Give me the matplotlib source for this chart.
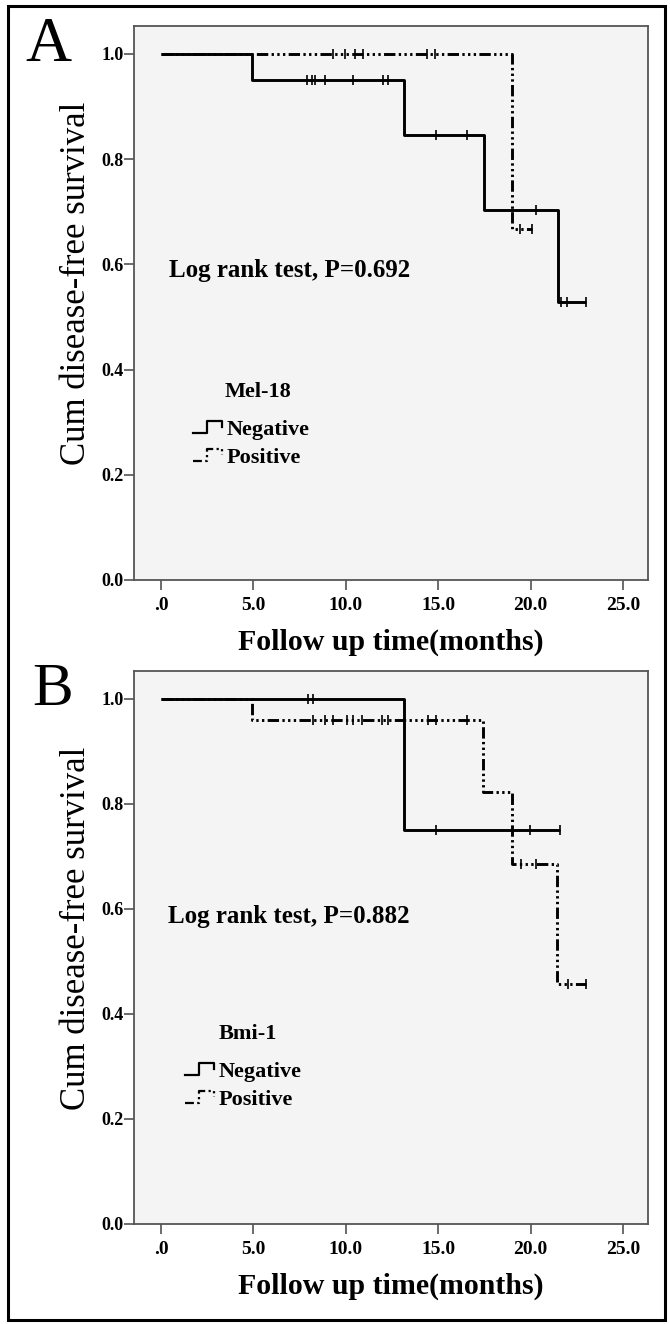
import numpy as np
import matplotlib
matplotlib.use('Agg')
import matplotlib.pyplot as plt
from matplotlib.lines import Line2D
from matplotlib.patches import Rectangle

plt.rcParams['font.family'] = ['Liberation Serif', 'DejaVu Serif']

# Panel A: Mel-18  (event times / survival levels, censor times)
a_neg_t = [0.0, 4.9, 13.15, 17.45, 21.5]
a_neg_s = [1.0, 0.95, 0.845, 0.703, 0.528]
a_neg_end = 23.0
a_neg_cens = [7.9, 8.15, 8.35, 8.9, 10.4, 12.0, 12.3, 14.9, 16.55, 20.3, 21.65, 21.95, 23.0]
a_pos_t = [0.0, 19.0]
a_pos_s = [1.0, 0.667]
a_pos_end = 20.05
a_pos_cens = [9.3, 9.95, 10.5, 10.95, 14.4, 14.85, 19.45, 20.05]

# Panel B: Bmi-1
b_neg_t = [0.0, 13.15]
b_neg_s = [1.0, 0.75]
b_neg_end = 21.6
b_neg_cens = [7.95, 8.25, 14.9, 19.95, 21.6]
b_pos_t = [0.0, 4.9, 17.4, 19.0, 21.45]
b_pos_s = [1.0, 0.96, 0.823, 0.686, 0.457]
b_pos_end = 23.0
b_pos_cens = [8.25, 8.85, 9.3, 10.05, 10.4, 10.85, 11.95, 12.3, 14.45, 14.9, 16.55,
              19.5, 20.3, 22.0, 23.0]

x_ticks = [0, 5, 10, 15, 20, 25]
x_labels = ['.0', '5.0', '10.0', '15.0', '20.0', '25.0']
y_ticks = [0.0, 0.2, 0.4, 0.6, 0.8, 1.0]
y_labels = ['0.0', '0.2', '0.4', '0.6', '0.8', '1.0']

W, H = 670, 1324
DASH = (0, (3.9, 1.15, 0.8, 1.15, 0.8, 1.15, 0.8, 1.15))


def px(x, y):
    return x / W, 1 - y / H


def km(ax, t, s, end, cens, ls):
    xs = list(t) + [end]
    ys = list(s) + [s[-1]]
    ax.step(xs, ys, where='post', color='black', lw=2.1, linestyle=ls,
            solid_capstyle='butt', zorder=3)
    idx = np.searchsorted(t, cens, side='right') - 1
    cy = np.array(s)[idx]
    ax.plot(cens, cy, linestyle='none', marker='|', ms=6.5, mew=1.2,
            color='black', zorder=4)


def legend_keys(fig, x0, y0, title, tx):
    fig.text(*px(tx, y0 - 38), title, ha='center', va='center',
             fontsize=16, fontweight='bold')
    # negative key (solid step)
    xs = [x0, x0 + 14, x0 + 14, x0 + 29, x0 + 29]
    ys = [y0 + 3, y0 + 3, y0 - 9, y0 - 9, y0 - 3]
    fig.add_artist(Line2D([px(a, b)[0] for a, b in zip(xs, ys)],
                          [px(a, b)[1] for a, b in zip(xs, ys)],
                          color='black', lw=1.6))
    fig.text(*px(x0 + 34, y0), 'Negative', ha='left', va='center',
             fontsize=16, fontweight='bold')
    # positive key (dash-dot-dot step)
    y1 = y0 + 28
    xs = [x0, x0 + 14, x0 + 14, x0 + 29, x0 + 29]
    ys = [y1 + 3, y1 + 3, y1 - 9, y1 - 9, y1 - 3]
    fig.add_artist(Line2D([px(a, b)[0] for a, b in zip(xs, ys)],
                          [px(a, b)[1] for a, b in zip(xs, ys)],
                          color='black', lw=1.6,
                          linestyle=(0, (4, 1.5, 1, 1.5, 1, 1.5))))
    fig.text(*px(x0 + 34, y1), 'Positive', ha='left', va='center',
             fontsize=16, fontweight='bold')


def style(ax):
    ax.set_facecolor('#f4f4f4')
    ax.set_xlim(-1.46, 26.35)
    ax.set_ylim(0, 1.053)
    ax.set_xticks(x_ticks)
    ax.set_xticklabels(x_labels, fontsize=14, fontweight='bold')
    ax.set_yticks(y_ticks)
    ax.set_yticklabels(y_labels, fontsize=13, fontweight='bold')
    ax.tick_params(axis='x', length=7, width=1.1, color='#444', pad=5)
    ax.tick_params(axis='y', length=7, width=1.1, color='#444', pad=0.5)
    for sp in ax.spines.values():
        sp.set_color('#555')
        sp.set_linewidth(1.3)
    ax.set_xlabel('Follow up time(months)', fontsize=21.5, fontweight='bold')
    ax.xaxis.set_label_coords(0.5, -0.088)
    ax.set_ylabel('Cum disease-free survival', fontsize=25)
    ax.yaxis.set_label_coords(-0.08, 0.535)


fig = plt.figure(figsize=(W / 100, H / 100), dpi=100)
axA = fig.add_axes([134 / W, 1 - 580 / H, 514 / W, 554 / H])
axB = fig.add_axes([134 / W, 1 - 1224 / H, 514 / W, 553 / H])

km(axA, a_neg_t, a_neg_s, a_neg_end, a_neg_cens, '-')
km(axA, a_pos_t, a_pos_s, a_pos_end, a_pos_cens, DASH)
km(axB, b_neg_t, b_neg_s, b_neg_end, b_neg_cens, '-')
km(axB, b_pos_t, b_pos_s, b_pos_end, b_pos_cens, DASH)
style(axA)
style(axB)

axA.text(0.45, 0.589, 'Log rank test, P=0.692', fontsize=18, fontweight='bold',
         va='center', ha='left')
axB.text(0.38, 0.585, 'Log rank test, P=0.882', fontsize=18, fontweight='bold',
         va='center', ha='left')

legend_keys(fig, 193, 430, 'Mel-18', 258)
legend_keys(fig, 185, 1072, 'Bmi-1', 248)

fig.text(*px(48, 46), 'A', fontsize=46, ha='center', va='center')
fig.text(*px(53, 690), 'B', fontsize=44, ha='center', va='center')

fig.add_artist(Rectangle(px(8, 1320), 657 / W, 1314 / H, fill=False,
                         edgecolor='black', lw=2.2, transform=fig.transFigure))

fig.savefig('out.png', dpi=100, facecolor='white')
